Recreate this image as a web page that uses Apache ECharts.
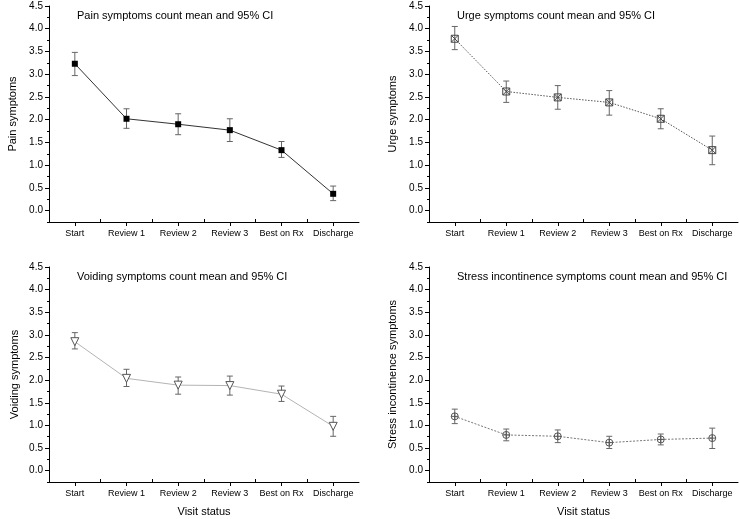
<!DOCTYPE html>
<html>
<head>
<meta charset="utf-8">
<script src="https://cdn.jsdelivr.net/npm/echarts@6/dist/echarts.min.js"></script>
<style>html,body{margin:0;padding:0;background:#fff}#c{width:739px;height:519px}</style>
</head>
<body>
<div id="c"></div>
<script>
var categories = ['Start', 'Review 1', 'Review 2', 'Review 3', 'Best on Rx', 'Discharge'];
var yTicks = [0, 0.5, 1, 1.5, 2, 2.5, 3, 3.5, 4, 4.5];

var painMean = [3.23, 2.02, 1.90, 1.77, 1.33, 0.37];
var painLow  = [2.97, 1.81, 1.67, 1.52, 1.17, 0.22];
var painHigh = [3.48, 2.24, 2.13, 2.02, 1.52, 0.54];

var urgeMean = [3.78, 2.62, 2.49, 2.38, 2.02, 1.33];
var urgeLow  = [3.54, 2.38, 2.23, 2.10, 1.80, 1.01];
var urgeHigh = [4.05, 2.85, 2.75, 2.64, 2.24, 1.64];

var voidMean = [2.85, 2.04, 1.89, 1.88, 1.69, 0.98];
var voidLow  = [2.69, 1.86, 1.69, 1.67, 1.53, 0.76];
var voidHigh = [3.05, 2.24, 2.07, 2.09, 1.87, 1.20];

var stressMean = [1.20, 0.79, 0.76, 0.62, 0.69, 0.72];
var stressLow  = [1.04, 0.66, 0.62, 0.49, 0.57, 0.49];
var stressHigh = [1.36, 0.92, 0.90, 0.76, 0.81, 0.94];

var FONT = '"Liberation Sans", Arial, sans-serif';
var panels = [
  {title: 'Pain symptoms count mean and 95% CI', yname: 'Pain symptoms', mean: painMean, low: painLow, high: painHigh,
   grid: {left: 49, top: 6, width: 310, height: 216}, xname: '', ygap: 31,
   line: {color: '#333', width: 1, type: 'solid'}, symbol: 'rect', symbolSize: 6, symbolRotate: 0,
   item: {color: '#000', borderColor: '#000', borderWidth: 0}},
  {title: 'Urge symptoms count mean and 95% CI', yname: 'Urge symptoms', mean: urgeMean, low: urgeLow, high: urgeHigh,
   grid: {left: 429, top: 6, width: 309, height: 216}, xname: '', ygap: 31,
   line: {color: '#555', width: 1, type: [1.5, 1.5]}, symbol: 'path://M0,0H10V10H0Z M0,0L10,10 M10,0L0,10', symbolSize: 7, symbolRotate: 0,
   item: {color: 'rgba(0,0,0,0)', borderColor: '#444', borderWidth: 1}},
  {title: 'Voiding symptoms count mean and 95% CI', yname: 'Voiding symptoms', mean: voidMean, low: voidLow, high: voidHigh,
   grid: {left: 49, top: 267, width: 310, height: 215}, xname: 'Visit status', ygap: 29,
   line: {color: '#b4b4b4', width: 1, type: 'solid'}, symbol: 'triangle', symbolSize: 8, symbolRotate: 180,
   item: {color: '#fff', borderColor: '#555', borderWidth: 1}},
  {title: 'Stress incontinence symptoms count mean and 95% CI', yname: 'Stress incontinence symptoms', mean: stressMean, low: stressLow, high: stressHigh,
   grid: {left: 429, top: 267, width: 309, height: 215}, xname: 'Visit status', ygap: 31,
   line: {color: '#777', width: 1, type: [2, 1.5]}, symbol: 'path://M5,0A5,5,0,1,1,4.99,0Z M5,0V10 M0,5H10', symbolSize: 7, symbolRotate: 0,
   item: {color: 'rgba(0,0,0,0)', borderColor: '#555', borderWidth: 1}}
];

var option = {animation: false, backgroundColor: '#fff', title: [], grid: [], xAxis: [], yAxis: [], series: []};
var catIdx = categories.map(function (c, i) { return i; });
var catBounds = categories.slice(1).map(function (c, i) { return i + 0.5; });
var yMinor = yTicks.slice(0, -1).map(function (v) { return v + 0.25; });
yMinor.unshift(-0.25);

panels.forEach(function (p, k) {
  option.grid.push(p.grid);
  option.title.push({text: p.title, left: p.grid.left + 28, top: p.grid.top + 4, padding: 0,
    textStyle: {fontSize: 11, fontWeight: 'normal', color: '#000', fontFamily: FONT}});
  option.xAxis.push({type: 'value', gridIndex: k, position: 'bottom', min: -0.5, max: 5.5,
    name: p.xname, nameLocation: 'middle', nameGap: 24,
    nameTextStyle: {fontSize: 11, color: '#000', fontFamily: FONT},
    axisLine: {onZero: false, lineStyle: {color: '#000', width: 1}},
    axisTick: {customValues: catIdx, length: 4, lineStyle: {color: '#000'}},
    axisLabel: {customValues: catIdx, margin: 7, fontSize: 9, color: '#000', fontFamily: FONT,
      formatter: function (v) { return categories[Math.round(v)]; }},
    splitLine: {show: false}});
  option.xAxis.push({type: 'value', gridIndex: k, position: 'bottom', min: -0.5, max: 5.5,
    axisLine: {show: false, onZero: false},
    axisTick: {customValues: catBounds, inside: true, length: 3, lineStyle: {color: '#000'}},
    axisLabel: {show: false}, splitLine: {show: false}});
  option.yAxis.push({type: 'value', gridIndex: k, position: 'left', min: -0.25, max: 4.5,
    name: p.yname, nameLocation: 'middle', nameGap: p.ygap,
    nameTextStyle: {fontSize: 11, color: '#000', fontFamily: FONT},
    axisLine: {show: true, onZero: false, lineStyle: {color: '#000', width: 1}},
    axisTick: {show: true, customValues: yTicks, length: 4, lineStyle: {color: '#000'}},
    axisLabel: {customValues: yTicks, margin: 6, fontSize: 10, color: '#000', fontFamily: FONT,
      formatter: function (v) { return v.toFixed(1); }},
    splitLine: {show: false}});
  option.yAxis.push({type: 'value', gridIndex: k, position: 'left', min: -0.25, max: 4.5,
    axisLine: {show: false, onZero: false},
    axisTick: {show: true, customValues: yMinor, length: 2, lineStyle: {color: '#000'}},
    axisLabel: {show: false}, splitLine: {show: false}});

  var xi = k * 2, yi = k * 2;
  option.series.push({type: 'custom', xAxisIndex: xi, yAxisIndex: yi, z: 1,
    data: catIdx.map(function (i) { return [i, p.low[i], p.high[i]]; }),
    renderItem: function (params, api) {
      var lo = api.coord([api.value(0), api.value(1)]);
      var hi = api.coord([api.value(0), api.value(2)]);
      var w = 3;
      var st = {stroke: '#666', lineWidth: 1};
      return {type: 'group', children: [
        {type: 'line', shape: {x1: lo[0], y1: lo[1], x2: hi[0], y2: hi[1]}, style: st},
        {type: 'line', shape: {x1: lo[0] - w, y1: lo[1], x2: lo[0] + w, y2: lo[1]}, style: st},
        {type: 'line', shape: {x1: hi[0] - w, y1: hi[1], x2: hi[0] + w, y2: hi[1]}, style: st}
      ]};
    }});
  option.series.push({type: 'line', xAxisIndex: xi, yAxisIndex: yi, z: 3,
    data: catIdx.map(function (i) { return [i, p.mean[i]]; }),
    lineStyle: p.line, symbol: p.symbol, symbolSize: p.symbolSize, symbolRotate: p.symbolRotate,
    showAllSymbol: true, itemStyle: p.item});
});

var chart = echarts.init(document.getElementById('c'), null, {renderer: 'canvas'});
chart.setOption(option);
</script>
</body>
</html>
